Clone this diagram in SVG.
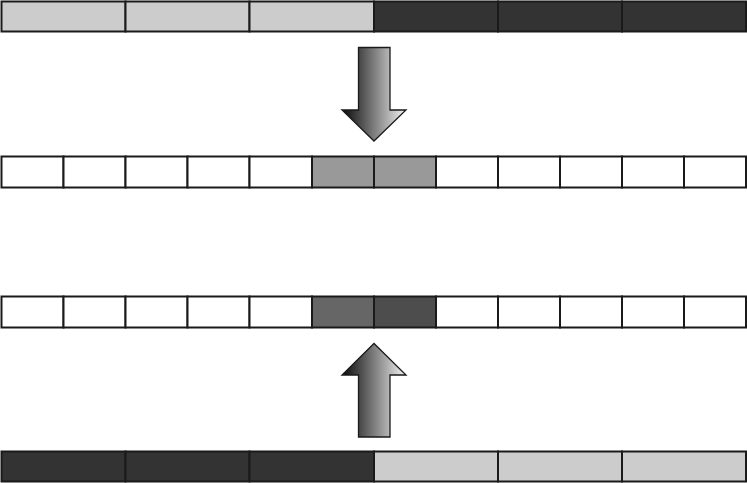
<svg xmlns="http://www.w3.org/2000/svg" width="747" height="483" viewBox="0 0 747 483">
<style>
.c{stroke:#1a1a1a;stroke-width:2}
.w{fill:#ffffff}
.l{fill:#cccccc}
.d{fill:#333333}
.a{fill:url(#g);stroke:#1a1a1a;stroke-width:1.3;stroke-linejoin:miter}
</style>
<defs>
<linearGradient id="g" gradientUnits="userSpaceOnUse" x1="342" y1="0" x2="406" y2="0">
<stop offset="0" stop-color="#080808"/>
<stop offset="1" stop-color="#f2f2f2"/>
</linearGradient>
</defs>
<g id="row1">
<rect class="c l" x="1.5" y="1.5" width="124" height="30"/>
<rect class="c l" x="125.5" y="1.5" width="124" height="30"/>
<rect class="c l" x="249.5" y="1.5" width="124.5" height="30"/>
<rect class="c d" x="374" y="1.5" width="124" height="30"/>
<rect class="c d" x="498" y="1.5" width="124" height="30"/>
<rect class="c d" x="622" y="1.5" width="124" height="30"/>
</g>
<g id="row2">
<rect class="c w" x="1.5" y="156.5" width="62" height="31"/>
<rect class="c w" x="63.5" y="156.5" width="62" height="31"/>
<rect class="c w" x="125.5" y="156.5" width="62" height="31"/>
<rect class="c w" x="187.5" y="156.5" width="62" height="31"/>
<rect class="c w" x="249.5" y="156.5" width="62.5" height="31"/>
<rect class="c" fill="#999999" x="312" y="156.5" width="62" height="31"/>
<rect class="c" fill="#999999" x="374" y="156.5" width="62" height="31"/>
<rect class="c w" x="436" y="156.5" width="62" height="31"/>
<rect class="c w" x="498" y="156.5" width="62" height="31"/>
<rect class="c w" x="560" y="156.5" width="62" height="31"/>
<rect class="c w" x="622" y="156.5" width="62" height="31"/>
<rect class="c w" x="684" y="156.5" width="62" height="31"/>
</g>
<g id="row3">
<rect class="c w" x="1.5" y="296.5" width="62" height="31"/>
<rect class="c w" x="63.5" y="296.5" width="62" height="31"/>
<rect class="c w" x="125.5" y="296.5" width="62" height="31"/>
<rect class="c w" x="187.5" y="296.5" width="62" height="31"/>
<rect class="c w" x="249.5" y="296.5" width="62.5" height="31"/>
<rect class="c" fill="#666666" x="312" y="296.5" width="62" height="31"/>
<rect class="c" fill="#4d4d4d" x="374" y="296.5" width="62" height="31"/>
<rect class="c w" x="436" y="296.5" width="62" height="31"/>
<rect class="c w" x="498" y="296.5" width="62" height="31"/>
<rect class="c w" x="560" y="296.5" width="62" height="31"/>
<rect class="c w" x="622" y="296.5" width="62" height="31"/>
<rect class="c w" x="684" y="296.5" width="62" height="31"/>
</g>
<g id="row4">
<rect class="c d" x="1.5" y="451.5" width="124" height="30"/>
<rect class="c d" x="125.5" y="451.5" width="124" height="30"/>
<rect class="c d" x="249.5" y="451.5" width="124.5" height="30"/>
<rect class="c l" x="374" y="451.5" width="124" height="30"/>
<rect class="c l" x="498" y="451.5" width="124" height="30"/>
<rect class="c l" x="622" y="451.5" width="124" height="30"/>
</g>
<g id="connectors">
<path class="a" d="M358.5,47.5 H390 V110 H406 L374,141 L342,110 H358.5 Z"/>
<path class="a" d="M358.5,437 H390 V375 H406 L374,343.5 L342,375 H358.5 Z"/>
</g>
</svg>
